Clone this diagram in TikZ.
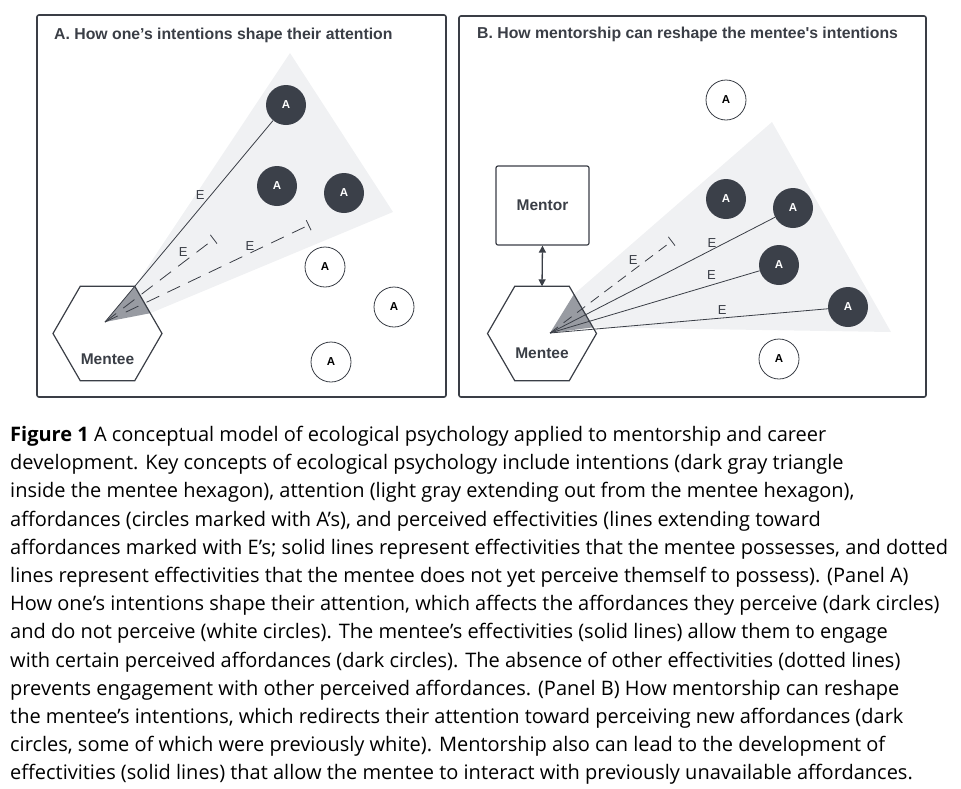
\documentclass[tikz,border=0pt]{standalone}
\usepackage{fontspec}
\setmainfont{Open Sans}
\newfontfamily\arialfont{Liberation Sans}
\usetikzlibrary{arrows.meta, positioning, calc, shapes.geometric, backgrounds}
\definecolor{InkGray}{HTML}{3A3E46}
\definecolor{DarkDot}{HTML}{3B4049}
\definecolor{AttnGray}{HTML}{F0F1F3}
\definecolor{IntGray}{HTML}{989BA2}

\begin{document}
\begin{tikzpicture}[x=1pt, y=-1pt,
    font=\arialfont,
    ttl/.style={anchor=west, inner sep=0pt, text=InkGray,
                font=\arialfont\fontsize{15.8}{18}\selectfont\bfseries},
    panel/.style={draw=InkGray, line width=1.6pt, rounded corners=2pt},
    hex/.style={draw=InkGray, regular polygon, regular polygon sides=6,
                minimum size=109pt, inner sep=0pt, outer sep=0pt, line width=1.2pt},
    who/.style={inner sep=0pt, text=InkGray,
                font=\arialfont\fontsize{15.5}{18}\selectfont\bfseries},
    dk/.style={circle, fill=DarkDot, minimum size=40pt, inner sep=0pt, text=white,
               font=\arialfont\fontsize{11.5}{12}\selectfont\bfseries},
    wt/.style={circle, draw=InkGray, fill=white, line width=0.8pt, minimum size=40pt,
               inner sep=0pt, text=black, font=\arialfont\fontsize{11.5}{12}\selectfont\bfseries},
    elab/.style={inner sep=1pt, text=InkGray, font=\arialfont\fontsize{13}{13}\selectfont},
    eff/.style={draw=InkGray, line width=0.8pt},
    neff/.style={eff, dash pattern=on 14pt off 9pt, -{Bar[width=11pt, line width=0.8pt]}},
    link/.style={{Triangle[length=7pt, width=7pt]}-{Triangle[length=7pt, width=7pt]},
                 draw=InkGray, line width=1.3pt},
  ]
  \useasboundingbox (0,0) rectangle (961,788);

  % Panel A
  \draw[panel] (37,15) rectangle (446,397);
  \node[ttl] (ttlA) at (54,35) {A. How one’s intentions shape their attention};
  \node[hex] (hexA) at (107.5,333.5) {};
  \node[who] (lblA) at (107.5,359) {Mentee};
  \coordinate (apexA) at (105,322);
  \coordinate (lowA) at ($(hexA.60)!0.57!(hexA.0)$);
  \begin{scope}[on background layer]
    \fill[AttnGray] (hexA.60) -- (290,53) -- (393,212) -- (lowA) -- cycle;
    \fill[IntGray] (apexA) -- (hexA.60) -- (lowA) -- cycle;
  \end{scope}
  \node[dk] (a1) at (286,105) {A};
  \node[dk] (a2) at (277,186) {A};
  \node[dk] (a3) at (344,193) {A};
  \node[wt] (a4) at (325,267) {A};
  \node[wt] (a5) at (394,307) {A};
  \node[wt] (a6) at (331,362) {A};
  \coordinate (stopA1) at (214,239);
  \coordinate (stopA2) at (309,225);
  \draw[eff] (apexA) -- node[elab, pos=0.6, above left] {E} (a1);
  \draw[neff] (apexA) -- node[elab, pos=0.77, above left] {E} (stopA1);
  \draw[neff] (apexA) -- node[elab, pos=0.71, above=1pt] {E} (stopA2);

  % Panel B
  \draw[panel] (459,16) rectangle (926,397);
  \node[ttl] (ttlB) at (477,34) {B. How mentorship can reshape the mentee's intentions};
  \node[hex] (hexB) at (542,333.5) {};
  \node[who] (lblB) at (542,353) {Mentee};
  \node[who, draw=InkGray, line width=1.2pt, rounded corners=2pt,
        minimum width=93pt, minimum height=79pt] (mentor) at (542.5,205.5) {Mentor};
  \draw[link] (mentor.south) -- (hexB.north);
  \coordinate (apexB) at (550,333);
  \coordinate (upB) at ($(hexB.60)!0.17!(hexB.0)$);
  \coordinate (lowB) at ($(hexB.60)!0.87!(hexB.0)$);
  \begin{scope}[on background layer]
    \fill[AttnGray] (upB) -- (772,122) -- (891,332) -- (lowB) -- cycle;
    \fill[IntGray] (apexB) -- (upB) -- (lowB) -- cycle;
  \end{scope}
  \node[wt] (b5) at (726,100) {A};
  \node[dk] (b1) at (726,199) {A};
  \node[dk] (b2) at (793,208) {A};
  \node[dk] (b3) at (779,265) {A};
  \node[dk] (b4) at (848,307) {A};
  \node[wt] (b6) at (779,359) {A};
  \coordinate (stopB1) at (672,241);
  \draw[neff, dash pattern=on 10pt off 7pt] (apexB) -- node[elab, pos=0.73, above left] {E} (stopB1);
  \draw[eff] (apexB) -- node[elab, pos=0.72, above=1pt] {E} (b2);
  \draw[eff] (apexB) -- node[elab, pos=0.77, above=4pt] {E} (b3);
  \draw[eff] (apexB) -- node[elab, pos=0.62, above=2pt] {E} (b4);

  % caption
  \node[anchor=north west, inner sep=0pt, align=left, text=black,
        font=\fontsize{20}{28.2}\selectfont] (cap) at (10,426) {%
    \textbf{Figure 1} A conceptual model of ecological psychology applied to mentorship and career\\
    development. Key concepts of ecological psychology include intentions (dark gray triangle\\
    inside the mentee hexagon), attention (light gray extending out from the mentee hexagon),\\
    affordances (circles marked with A’s), and perceived effectivities (lines extending toward\\
    affordances marked with E’s; solid lines represent effectivities that the mentee possesses, and dotted\\
    lines represent effectivities that the mentee does not yet perceive themself to possess). (Panel A)\\
    How one’s intentions shape their attention, which affects the affordances they perceive (dark circles)\\
    and do not perceive (white circles). The mentee’s effectivities (solid lines) allow them to engage\\
    with certain perceived affordances (dark circles). The absence of other effectivities (dotted lines)\\
    prevents engagement with other perceived affordances. (Panel B) How mentorship can reshape\\
    the mentee’s intentions, which redirects their attention toward perceiving new affordances (dark\\
    circles, some of which were previously white). Mentorship also can lead to the development of\\
    effectivities (solid lines) that allow the mentee to interact with previously unavailable affordances.};
\end{tikzpicture}
\end{document}
